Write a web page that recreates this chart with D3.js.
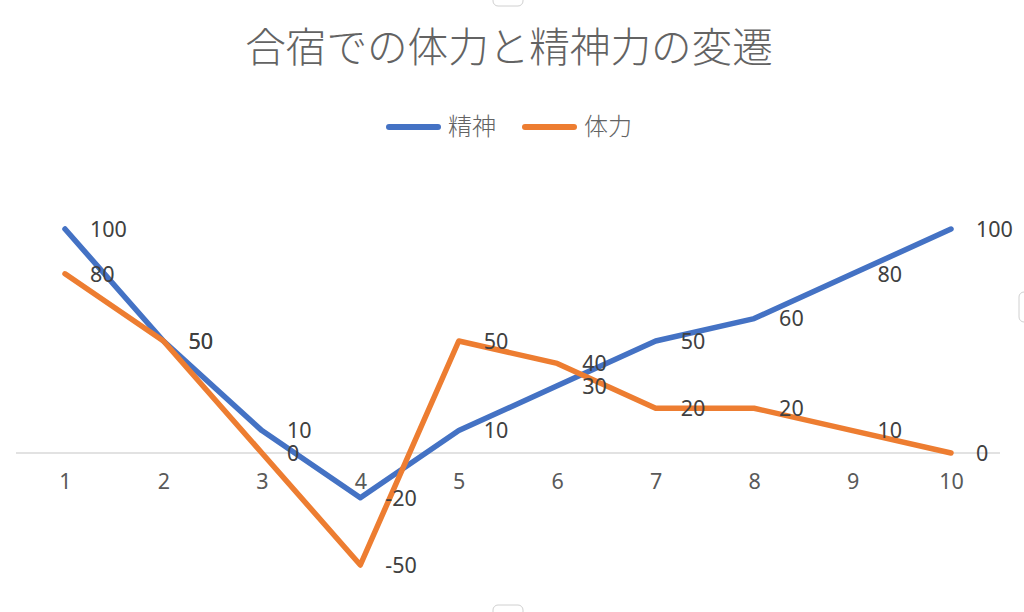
<!DOCTYPE html>
<html><head><meta charset="utf-8">
<script src="https://cdn.jsdelivr.net/npm/d3@7"></script>
<style>
html,body{margin:0;padding:0;background:#fff;}
svg{display:block;}
</style></head>
<body>
<svg id="chart" width="1024" height="612"></svg>
<script>
const categories = [1,2,3,4,5,6,7,8,9,10];
const seriesNames = ["精神","体力"];
const seishin = [100,50,10,-20,10,30,50,60,80,100];
const tairyoku = [80,50,0,-50,50,40,20,20,10,0];
const colors = ["#4472C4","#ED7D31"];
const title = "合宿での体力と精神力の変遷";

const svg = d3.select("#chart");
const cjk = "'Noto Sans CJK JP','Noto Sans',sans-serif";
const num = "'Noto Sans','Open Sans',sans-serif";

const x = d3.scalePoint().domain(categories).range([65,951]);
const y = d3.scaleLinear().domain([0,100]).range([453,229]);

// handles
svg.append("rect").attr("x",493).attr("y",-6).attr("width",30).attr("height",12).attr("rx",5)
  .attr("fill","#fff").attr("stroke","#d0d0d0");
svg.append("rect").attr("x",493).attr("y",605).attr("width",30).attr("height",14).attr("rx",5)
  .attr("fill","#fff").attr("stroke","#d0d0d0");
svg.append("rect").attr("x",1019).attr("y",292).attr("width",14).attr("height",30).attr("rx",5)
  .attr("fill","#fff").attr("stroke","#d0d0d0");

// title
svg.append("text").attr("x",509).attr("y",62).attr("text-anchor","middle")
  .attr("font-family",cjk).attr("font-weight",300).attr("font-size",40.6)
  .attr("fill","#636363").text(title);

// legend
const leg = [{x:386},{x:522}];
seriesNames.forEach((n,i)=>{
  const g = svg.append("g");
  g.append("line").attr("x1",leg[i].x+3).attr("x2",leg[i].x+52).attr("y1",127).attr("y2",127)
    .attr("stroke",colors[i]).attr("stroke-width",6).attr("stroke-linecap","round");
  g.append("text").attr("x",leg[i].x+62).attr("y",135).attr("font-family",cjk).attr("font-weight",300)
    .attr("font-size",24).attr("fill","#636363").text(n);
});

// axis line at 0
svg.append("line").attr("x1",16).attr("x2",1000).attr("y1",y(0)).attr("y2",y(0))
  .attr("stroke","#d9d9d9").attr("stroke-width",1.5);

// category axis
const xAxis = d3.axisBottom(x).tickSize(0).tickPadding(0);
const ag = svg.append("g").attr("transform",`translate(0,${y(0)+21})`).call(xAxis);
ag.select(".domain").remove();
ag.selectAll("text").attr("font-family",num).attr("font-size",21.5).attr("fill","#595959")
  .attr("dy","0.7em");

// lines
const line = d3.line().x((d,i)=>x(categories[i])).y(d=>y(d));
[seishin,tairyoku].forEach((s,i)=>{
  svg.append("path").datum(s).attr("d",line).attr("fill","none")
    .attr("stroke",colors[i]).attr("stroke-width",5.5)
    .attr("stroke-linejoin","round").attr("stroke-linecap","round");
});

// data labels
[seishin,tairyoku].forEach((s,i)=>{
  svg.append("g").selectAll("text").data(s).join("text")
    .attr("x",(d,j)=>x(categories[j])+25).attr("y",d=>y(d)).attr("dy","0.36em")
    .attr("font-family",num).attr("font-size",21.5).attr("fill","#404040")
    .text(d=>d);
});
</script>
</body></html>
